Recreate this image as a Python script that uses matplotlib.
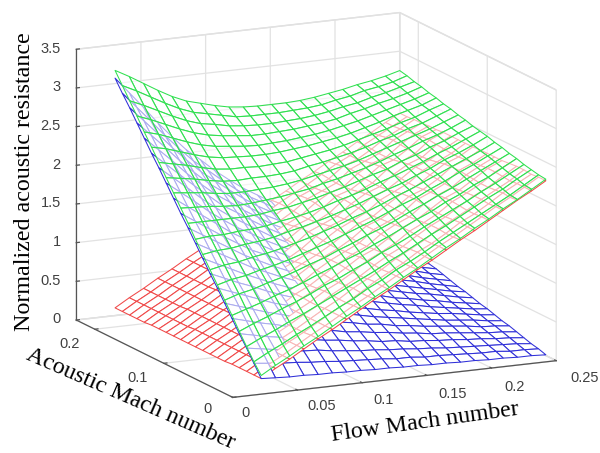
import numpy as np
import matplotlib
matplotlib.use('Agg')
import matplotlib.pyplot as plt
from mpl_toolkits.mplot3d.art3d import Poly3DCollection

flow_mach = [0.03,0.041,0.052,0.063,0.074,0.085,0.096,0.107,0.118,0.129,0.14,0.151,0.162,0.173,0.184,0.195,0.206,0.217,0.228,0.239,0.25]
acoustic_mach = [0.015,0.0256,0.0362,0.0468,0.0574,0.068,0.0786,0.0892,0.0998,0.1104,0.121,0.1316,0.1422,0.1528,0.1634,0.174,0.1846,0.1952,0.2058,0.2164,0.227]
# resistance x 100, one row per acoustic Mach number, one column per flow Mach number
red_z = [
[12,23,33,44,55,65,76,87,98,108,119,130,140,151,162,172,183,194,205,215,226],
[12,23,33,44,55,65,76,87,97,108,119,129,140,151,161,172,183,194,204,215,226],
[12,23,33,44,54,65,76,86,97,109,119,129,141,150,161,173,182,193,205,215,225],
[12,22,33,44,54,65,76,86,98,108,118,130,140,150,162,172,182,194,204,214,226],
[12,22,33,44,54,65,75,87,97,107,119,130,139,151,162,171,183,194,203,215,226],
[11,22,33,43,54,65,75,87,96,107,120,129,139,152,161,171,184,193,203,216,225],
[11,22,33,43,54,65,76,86,96,108,120,128,140,152,160,172,184,192,204,216,224],
[11,22,32,43,54,64,76,85,97,109,119,127,141,151,159,173,183,191,205,215,224],
[11,22,32,43,53,64,75,85,98,109,118,127,142,150,159,174,182,191,206,214,224],
[11,22,32,43,53,64,74,86,98,108,117,128,142,149,160,174,181,192,206,213,224],
[11,22,32,43,53,64,74,87,97,106,117,129,141,148,161,173,180,193,205,212,223],
[11,22,32,43,53,63,75,87,95,105,118,130,139,148,162,171,180,194,203,212,223],
[11,21,32,42,53,63,75,86,94,105,119,130,137,149,162,169,181,194,201,213,223],
[11,21,32,42,53,63,75,84,94,106,120,128,136,150,161,168,182,193,200,214,223],
[11,21,32,42,53,63,74,83,95,107,120,126,136,151,159,168,183,191,200,215,223],
[11,21,31,42,52,63,73,83,96,108,118,125,137,151,157,169,183,189,201,215,222],
[10,21,31,42,52,63,73,84,97,107,116,125,139,150,156,171,182,188,202,214,222],
[10,21,31,42,52,63,73,85,96,105,115,126,140,148,156,172,180,188,203,212,221],
[10,21,31,42,52,63,73,85,95,104,115,127,139,147,157,171,178,189,202,211,221],
[10,21,31,42,52,63,73,84,94,104,115,127,137,147,158,169,178,190,200,210,220],
[10,21,31,42,52,63,73,84,94,105,115,126,136,147,157,168,178,189,199,210,220]]
blue_z = [
[12,11,10,10,9,9,8,8,7,7,6,6,5,5,4,4,3,3,2,2,1],
[27,25,23,22,20,19,17,16,15,14,12,12,10,10,9,8,7,7,5,5,4],
[42,39,36,33,30,29,26,24,22,21,19,18,16,15,13,12,11,10,9,8,6],
[56,52,48,45,41,38,35,33,30,28,25,24,21,20,18,17,15,14,12,11,9],
[71,66,61,57,52,48,44,41,37,35,32,30,27,25,22,21,19,17,15,14,12],
[86,80,74,68,63,58,53,49,45,42,38,36,32,30,27,25,23,21,18,17,15],
[101,94,87,80,73,68,62,58,53,49,45,41,38,35,32,29,26,24,22,19,17],
[115,107,99,92,84,77,71,66,60,56,51,47,43,40,36,33,30,28,25,22,20],
[130,121,112,103,95,87,80,74,68,63,58,53,49,45,41,38,34,31,28,25,23],
[145,135,125,115,105,97,89,82,75,70,64,59,54,50,45,42,38,35,31,28,25],
[160,149,138,127,116,107,98,90,83,77,71,65,60,55,50,46,42,39,35,31,28],
[174,162,150,138,127,116,108,99,91,83,77,71,65,59,55,50,46,42,38,34,31],
[189,176,163,150,137,126,117,107,98,90,83,77,70,64,59,54,50,46,41,37,33],
[204,190,176,161,148,136,126,115,106,97,90,83,76,69,64,59,54,49,44,40,36],
[219,204,189,173,159,146,135,124,113,104,96,89,81,74,68,63,58,53,48,43,39],
[233,217,201,185,170,155,144,132,121,111,103,95,87,79,73,67,62,56,51,46,42],
[248,231,214,196,180,165,153,140,129,118,109,100,92,84,78,71,65,60,54,48,44],
[263,245,227,208,191,175,162,148,136,125,116,106,98,89,82,75,69,63,57,51,47],
[278,259,240,220,202,185,171,157,144,132,122,112,103,94,87,80,73,67,61,54,50],
[292,272,252,231,212,194,180,165,151,139,129,118,109,99,91,84,77,70,64,57,52],
[307,286,265,243,223,204,189,173,159,146,135,124,114,104,96,88,81,74,67,60,55]]
green_z = [
[16,27,37,48,58,69,80,90,101,111,122,132,143,154,164,175,185,196,206,217,228],
[29,39,48,58,67,77,87,96,107,116,127,136,146,157,167,177,187,197,207,218,229],
[44,53,61,70,78,87,96,105,114,123,133,142,152,162,171,181,191,201,210,221,231],
[59,67,74,82,89,97,106,113,122,130,140,148,157,167,176,185,194,204,213,223,233],
[75,81,87,94,100,107,115,122,130,137,146,154,163,172,180,190,198,208,216,226,236],
[90,96,100,106,111,117,124,130,138,145,153,160,168,177,185,194,202,211,220,229,238],
[105,110,113,118,122,127,133,139,145,152,159,166,174,182,189,198,206,215,223,232,241],
[120,124,126,130,133,137,142,147,153,159,166,172,179,187,194,202,210,218,226,234,243],
[135,138,139,142,144,147,152,156,161,166,172,178,185,192,198,206,213,222,229,237,246],
[150,152,152,154,155,157,161,164,168,173,179,184,190,197,203,210,217,225,232,240,248],
[166,166,166,166,166,167,170,172,176,180,185,190,196,202,207,215,221,229,235,243,250],
[181,180,179,177,176,177,179,181,184,187,192,196,201,206,212,219,225,232,238,245,253],
[196,194,192,189,187,187,188,189,191,194,198,202,206,211,217,223,229,235,241,248,255],
[211,208,205,201,198,197,198,198,199,201,205,208,212,216,221,227,232,239,244,251,258],
[226,222,218,213,209,207,207,206,207,208,211,214,217,221,226,231,236,242,247,254,260],
[241,237,231,225,220,217,216,215,215,216,218,220,223,226,230,235,240,246,251,256,263],
[256,251,244,237,231,227,225,223,222,223,224,226,228,231,235,239,244,249,254,259,265],
[272,265,257,249,242,237,234,232,230,230,231,232,234,236,239,244,248,253,257,262,268],
[287,279,270,261,253,247,244,240,238,237,237,238,239,241,244,248,251,256,260,265,270],
[302,293,283,273,264,257,253,249,245,244,244,244,245,246,248,252,255,260,263,267,273],
[317,307,296,285,275,267,262,257,253,251,250,250,250,251,253,256,259,263,266,270,275]]
x_ticks = [0,0.05,0.1,0.15,0.2,0.25]
x_labels = ['0','0.05','0.1','0.15','0.2','0.25']
y_ticks = [0,0.1,0.2]
y_labels = ['0','0.1','0.2']
z_ticks = [0,0.5,1,1.5,2,2.5,3,3.5]
z_labels = ['0','0.5','1','1.5','2','2.5','3','3.5']

RED='#f04848'; BLUE='#3030d8'; GREEN='#30e050'
LW=0.75
fig=plt.figure(figsize=(6,4.53),dpi=100)
ax=fig.add_axes([83.6/600,15.4/453,453/600,1.0],projection='3d',computed_zorder=False)
ax.set_proj_type('ortho')
ax.view_init(elev=13.7,azim=-115.6)
ax.set_box_aspect((1,1.01,0.777),zoom=1.245)
ax.set_xlim(0,0.25); ax.set_ylim(0,0.227); ax.set_zlim(0,3.5)

X,Y=np.meshgrid(flow_mach,acoustic_mach)
R=np.array(red_z)/100; B=np.array(blue_z)/100; G=np.array(green_z)/100
def quads(Z):
    out=[]
    for j in range(Z.shape[0]-1):
        for i in range(Z.shape[1]-1):
            out.append([(X[j,i],Y[j,i],Z[j,i]),(X[j,i+1],Y[j,i+1],Z[j,i+1]),(X[j+1,i+1],Y[j+1,i+1],Z[j+1,i+1]),(X[j+1,i],Y[j+1,i],Z[j+1,i])])
    return out
qr=quads(R); qb=quads(B)
pc=Poly3DCollection(qr+qb,facecolors='white',edgecolors=[RED]*len(qr)+[BLUE]*len(qb),linewidths=LW,zorder=2)
ax.add_collection3d(pc); pc.set_clip_on(False)
pg=Poly3DCollection(quads(G),facecolors=(1,1,1,0.6),edgecolors=GREEN,linewidths=LW,zorder=3)
ax.add_collection3d(pg); pg.set_clip_on(False)

TC='#404040'
for axis,t,l in ((ax.xaxis,x_ticks,x_labels),(ax.yaxis,y_ticks,y_labels),(ax.zaxis,z_ticks,z_labels)):
    axis.set_ticks(t); axis.set_ticklabels(l,fontsize=10.5,family='Liberation Sans',color=TC)
    axis.set_pane_color((1,1,1,1))
    axis.pane.set_edgecolor('#dcdcdc')
    axis.line.set_color('#555555'); axis.line.set_linewidth(0.9)
    axis._axinfo['grid'].update(color='#e2e2e2',linewidth=0.9)
    axis._axinfo['tick'].update(inward_factor=0.0,outward_factor=0.12,color='#555555',linewidth={True:0.9,False:0.5})
    axis.set_tick_params(color='#555555')

PX=0.185/453  # projected view units per pixel
def nudge(text,dx,dy):
    orig=text.set_position
    text.set_position=lambda p: orig((p[0]+dx*PX,p[1]+dy*PX))
for tick,(dx,dy) in zip(ax.xaxis.get_major_ticks(),[(2,15),(14,15),(11,13),(15,12),(12,12),(18,13)]):
    nudge(tick.label1,dx,dy)
for tick,(dx,dy) in zip(ax.yaxis.get_major_ticks(),[(-3,16),(-4,13),(-3,13)]):
    nudge(tick.label1,dx,dy)
for tick in ax.zaxis.get_major_ticks():
    tick.label1.set_ha('right')
    nudge(tick.label1,17,5)

lab=dict(fontsize=17.3,family='Liberation Serif',color='black')
ax.xaxis.set_rotate_label(False); ax.yaxis.set_rotate_label(False); ax.zaxis.set_rotate_label(False)
ax.set_xlabel('Flow Mach number',labelpad=0,rotation=8,**lab)
ax.set_ylabel('Acoustic Mach number',labelpad=0,rotation=-23.5,**lab)
ax.set_zlabel('Normalized acoustic resistance',labelpad=-2,rotation=90,**lab)
nudge(ax.xaxis.label,11,0)
nudge(ax.yaxis.label,16,-2)
nudge(ax.zaxis.label,2,-2)
fig.savefig('out.png',dpi=100)
